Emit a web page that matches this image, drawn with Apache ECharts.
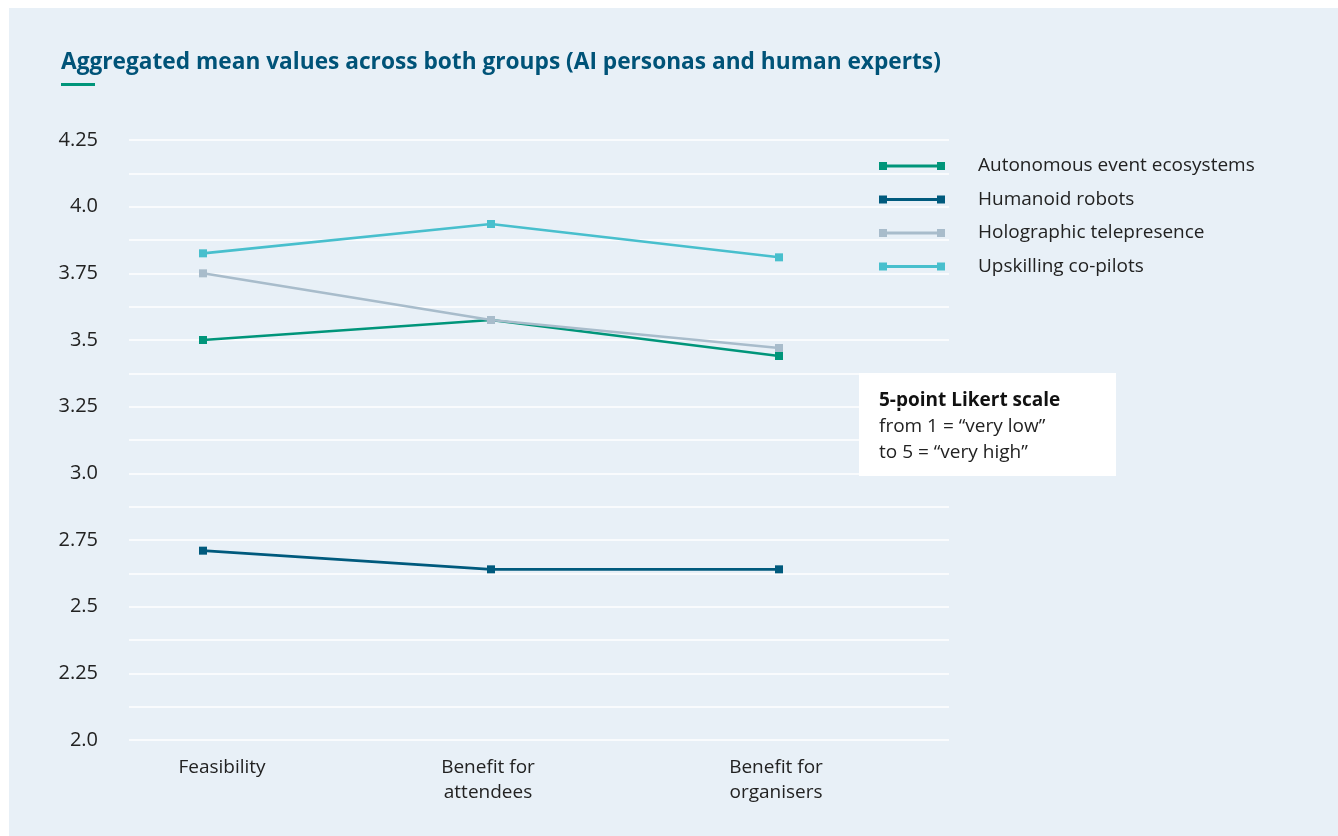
<!DOCTYPE html>
<html>
<head>
<meta charset="utf-8">
<script src="https://cdn.jsdelivr.net/npm/echarts@6/dist/echarts.min.js"></script>
<style>
  html, body { margin: 0; padding: 0; background: #ffffff; }
  #chart { width: 1338px; height: 836px; }
</style>
</head>
<body>
<div id="chart"></div>
<script>
// Mean ratings (5-point Likert scale) per dimension
const categories = ['Feasibility', 'Benefit for\nattendees', 'Benefit for\norganisers'];
const seriesNames = ['Autonomous event ecosystems', 'Humanoid robots', 'Holographic telepresence', 'Upskilling co-pilots'];
const autonomous = [3.50, 3.575, 3.44];
const humanoid = [2.71, 2.64, 2.64];
const holographic = [3.75, 3.575, 3.47];
const upskilling = [3.825, 3.935, 3.81];
const yTickLabels = ['2.0', '2.25', '2.5', '2.75', '3.0', '3.25', '3.5', '3.75', '4.0', '4.25'];

const colors = ['#00957a', '#005a7d', '#a8bccb', '#48bfcd'];
const values = [autonomous, humanoid, holographic, upskilling];
const FONT = '"Open Sans", "Noto Sans", sans-serif';

// legend glyph: short line with a square at each end
const legendIcon = 'path://M0,0H8V8H0Z M58,0H66V8H58Z M8,2.6H58V5.4H8Z';

const chart = echarts.init(document.getElementById('chart'), null, { renderer: 'canvas' });

const option = {
  animation: false,
  textStyle: { fontFamily: FONT },
  graphic: [
    { type: 'rect', shape: { x: 9, y: 8, width: 1329, height: 828 }, style: { fill: '#e8f0f7' }, z: -10, silent: true },
    { type: 'text', left: 61, top: 51, style: { text: 'Aggregated mean values across both groups (AI personas and human experts)', font: 'bold 22.7px ' + FONT, fill: '#005378' } },
    { type: 'rect', shape: { x: 61, y: 83, width: 34, height: 3 }, style: { fill: '#00957a' } },
    {
      type: 'group', left: 859, top: 373,
      children: [
        { type: 'rect', shape: { x: 0, y: 0, width: 257, height: 103 }, style: { fill: '#ffffff' } },
        { type: 'text', x: 20, y: 18, style: { text: '5-point Likert scale', font: 'bold 19px ' + FONT, fill: '#111111' } },
        { type: 'text', x: 20, y: 41, style: { text: 'from 1 = \u201cvery low\u201d\nto 5 = \u201cvery high\u201d', font: '19px ' + FONT, fill: '#222222', lineHeight: 25.5 } }
      ]
    }
  ],
  legend: {
    orient: 'vertical',
    left: 879,
    top: 155,
    padding: 0,
    itemWidth: 66,
    itemHeight: 8,
    itemGap: 11.5,
    icon: legendIcon,
    data: seriesNames,
    textStyle: { fontFamily: FONT, fontSize: 19, color: '#222222', lineHeight: 22, padding: [0, 0, 0, 28] }
  },
  grid: [
    { left: 129, right: 389, top: 140, bottom: 96 },
    { left: 203, right: 559, top: 140, bottom: 96 }
  ],
  xAxis: [
    { gridIndex: 0, type: 'value', min: 0, max: 1, show: false },
    {
      gridIndex: 1, type: 'category', boundaryGap: false,
      data: categories.map((c, i) => i === 0 ? { value: c, textStyle: { padding: [0, 0, 0, 38] } } : { value: c, textStyle: { padding: [0, 6, 0, 0] } }),
      axisLine: { show: false }, axisTick: { show: false }, splitLine: { show: false },
      axisLabel: { fontFamily: FONT, fontSize: 19, color: '#222222', lineHeight: 25, margin: 15, interval: 0 }
    }
  ],
  yAxis: [
    {
      gridIndex: 0, type: 'value', min: 2, max: 4.25, interval: 0.125,
      axisLine: { show: false }, axisTick: { show: false },
      splitLine: { show: true, lineStyle: { color: '#ffffff', width: 1.5 } },
      axisLabel: {
        fontFamily: FONT, fontSize: 20, color: '#222222', margin: 31,
        formatter: function (v) {
          const k = (v - 2) / 0.25;
          return Math.abs(k - Math.round(k)) < 1e-6 ? yTickLabels[Math.round(k)] : '';
        }
      }
    },
    { gridIndex: 1, type: 'value', min: 2, max: 4.25, show: false, splitLine: { show: false } }
  ],
  series: seriesNames.map((name, i) => ({
    name: name,
    type: 'line',
    xAxisIndex: 1,
    yAxisIndex: 1,
    data: values[i],
    symbol: 'rect',
    symbolSize: 8,
    showSymbol: true,
    lineStyle: { color: colors[i], width: 2.6 },
    itemStyle: { color: colors[i] },
    emphasis: { disabled: true }
  }))
};

chart.setOption(option);
</script>
</body>
</html>
